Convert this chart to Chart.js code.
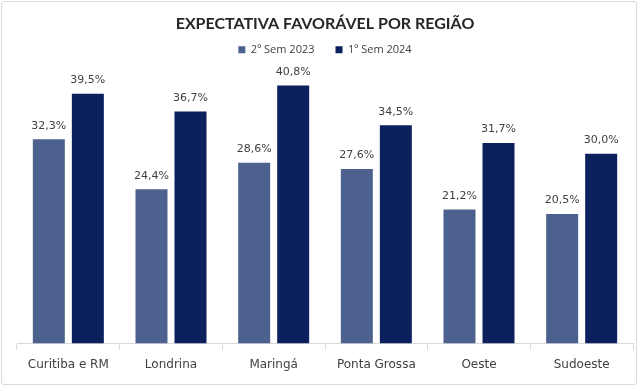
<!DOCTYPE html>
<html><head><meta charset="utf-8">
<script src="https://cdn.jsdelivr.net/npm/chart.js@4"></script>
<style>
html,body{margin:0;padding:0;background:#fff}
#wrap{position:absolute;left:1px;top:1px;width:636px;height:384px;border:1px solid #d9d9d9;border-radius:3px;box-sizing:border-box}
#c{position:absolute;left:0;top:0}
</style></head><body>
<div id="wrap"><canvas id="c" width="634" height="382"></canvas></div>
<script>
const regioes = ['Curitiba e RM','Londrina','Maringá','Ponta Grossa','Oeste','Sudoeste'];
const sem2023 = [32.3, 24.4, 28.6, 27.6, 21.2, 20.5];
const sem2024 = [39.5, 36.7, 40.8, 34.5, 31.7, 30.0];
const nomes = ['2º Sem 2023','1º Sem 2024'];

const txt = '#404040';

// valores em cima das barras
const rotulos = {
  id:'rotulos',
  afterDatasetsDraw(chart){
    const ctx = chart.ctx;
    ctx.save();
    ctx.font = '11px "DejaVu Sans", sans-serif';
    ctx.fillStyle = txt;
    ctx.textAlign = 'center';
    ctx.textBaseline = 'bottom';
    chart.data.datasets.forEach((ds,i)=>{
      chart.getDatasetMeta(i).data.forEach((bar,j)=>{
        ctx.fillText(ds.data[j].toFixed(1).replace('.',',')+'%', bar.x, bar.y-8);
      });
    });
    ctx.restore();
  }
};

new Chart(document.getElementById('c'),{
  type:'bar',
  data:{labels:regioes, datasets:[
    {label:nomes[0], data:sem2023, backgroundColor:'#4c618e'},
    {label:nomes[1], data:sem2024, backgroundColor:'#0b205c'}
  ]},
  options:{
    responsive:false, animation:false,
    categoryPercentage:0.76, barPercentage:0.82,
    layout:{padding:{left:15,right:3,top:0,bottom:4}},
    plugins:{
      title:{display:true, text:'EXPECTATIVA FAVORÁVEL POR REGIÃO', color:'#262626',
        font:{family:'Lato', size:16, weight:'bold'}, padding:{top:12,bottom:-10}},
      legend:{labels:{color:txt, boxWidth:7, boxHeight:7, padding:21,
        font:{family:'"Open Sans"', size:11}}},
      tooltip:{enabled:false}
    },
    scales:{
      x:{grid:{offset:true, drawOnChartArea:false, tickLength:6, color:'#d9d9d9'},
         border:{color:'#d9d9d9'},
         ticks:{color:txt, font:{family:'"DejaVu Sans"', size:12}, padding:8}},
      y:{display:false, min:0, max:44}
    }
  },
  plugins:[rotulos]
});
</script></body></html>
